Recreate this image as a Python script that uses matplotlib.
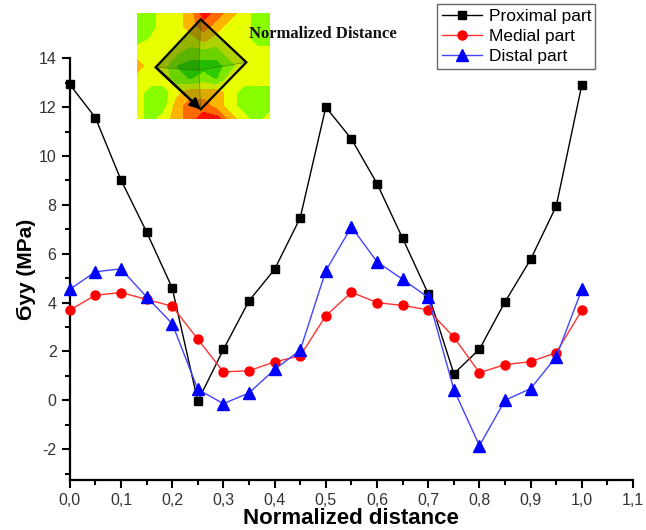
import numpy as np
import matplotlib.pyplot as plt
from matplotlib.colors import ListedColormap, BoundaryNorm
from matplotlib.ticker import MultipleLocator, FuncFormatter
from matplotlib.patches import Polygon, FancyArrowPatch

plt.rcParams['font.family'] = ['Liberation Sans', 'DejaVu Sans']

# normalized distance along the path
distance = [0.0, 0.05, 0.1, 0.15, 0.2, 0.25, 0.3, 0.35, 0.4, 0.45, 0.5,
            0.55, 0.6, 0.65, 0.7, 0.75, 0.8, 0.85, 0.9, 0.95, 1.0]

proximal = [12.93, 11.57, 9.02, 6.89, 4.60, -0.04, 2.08, 4.07, 5.36, 7.47, 12.0,
            10.7, 8.87, 6.63, 4.36, 1.09, 2.09, 4.03, 5.77, 7.95, 12.92]
medial = [3.69, 4.30, 4.41, 4.13, 3.85, 2.50, 1.16, 1.21, 1.57, 1.82, 3.46,
          4.42, 4.00, 3.88, 3.70, 2.58, 1.13, 1.46, 1.58, 1.95, 3.69]
distal = [4.54, 5.26, 5.38, 4.23, 3.14, 0.45, -0.14, 0.30, 1.26, 2.05, 5.30,
          7.10, 5.67, 4.95, 4.21, 0.44, -1.86, 0.0, 0.48, 1.78, 4.54]

series_labels = ['Proximal part', 'Medial part', 'Distal part']

# rough stress levels of the little contour picture (top row first)
inset_levels = [
    [0, 0, 1, 1, 2, 4, 3, 2, 1, 0, 0],
    [0, 0, 1, 1, 2, 3, 2, 1, 1, 0, 0],
    [0, 0.6, 1, 1, 1, 1.8, 1, 1, 1, 0, 0],
    [1, 1, 1, 0.6, 0, 0, 0, 1, 1, 1, 1],
    [2, 1, 0.8, -0.6, -1, -1, -1, 0, 1, 1, 1],
    [1, 1, 1, 0, -0.6, 0, -0.6, 1, 1, 1, 1],
    [1, 0, 0, 1.2, 2, 2, 2, 1, 0, 0, 0],
    [1, 0, 0, 2, 3, 3, 2, 1, 0, 0, 0],
    [1, 0, 1, 2, 3, 4, 4, 2, 1, 0, 1],
]
inset_colors = ['#22dd00', '#88ff00', '#e8ff00', '#ffb400', '#ff6a00', '#ff1000']

fig = plt.figure(figsize=(6.46, 5.30), dpi=100)
ax = fig.add_axes([0.108, 0.095, 0.872, 0.795])

ax.plot(distance, proximal, color='black', lw=1.0, marker='s', ms=6,
        mec='black', mfc='black', label=series_labels[0], clip_on=False, zorder=3)
ax.plot(distance, medial, color='#ff3333', lw=1.0, marker='o', ms=6.5,
        mec='red', mfc='red', label=series_labels[1], clip_on=False, zorder=3)
ax.plot(distance, distal, color='#4444ff', lw=1.0, marker='^', ms=8,
        mec='blue', mfc='blue', label=series_labels[2], clip_on=False, zorder=3)

ax.set_xlim(0, 1.1)
ax.set_ylim(-3.25, 14)
ax.xaxis.set_major_locator(MultipleLocator(0.1))
ax.xaxis.set_minor_locator(MultipleLocator(0.05))
ax.yaxis.set_major_locator(MultipleLocator(2))
ax.yaxis.set_minor_locator(MultipleLocator(1))
ax.xaxis.set_major_formatter(FuncFormatter(lambda v, p: ('%.1f' % v).replace('.', ',')))
ax.yaxis.set_major_formatter(FuncFormatter(lambda v, p: '%d' % round(v)))
ax.set_yticks(range(-2, 15, 2))

for s in ['top', 'right']:
    ax.spines[s].set_visible(False)
for s in ['left', 'bottom']:
    ax.spines[s].set_linewidth(1.6)

ax.tick_params(which='major', direction='out', length=6, width=1.5,
               labelsize=11.5, labelcolor='#333333')
ax.tick_params(which='minor', direction='out', length=3.5, width=1.5)

ax.set_xlabel('Normalized distance', fontsize=16, fontweight='bold', labelpad=0)
ax.set_ylabel('Ϭyy (MPa)', fontsize=15, fontweight='bold', labelpad=2)

leg = fig.legend(loc='upper left', bbox_to_anchor=(0.677, 0.992), fontsize=12.5,
                 frameon=True, fancybox=False, edgecolor='#444444',
                 handlelength=2.3, borderpad=0.25, labelspacing=0.3,
                 handletextpad=0.4, borderaxespad=0)
leg.get_frame().set_linewidth(1.0)

# inset picture with the path
ins = fig.add_axes([0.212, 0.7755, 0.206, 0.2])
grid = np.array(inset_levels)[::-1]
gx = np.linspace(0, 1, grid.shape[1])
gy = np.linspace(0, 1, grid.shape[0])
cmap = ListedColormap(inset_colors)
bounds = [-2, -0.5, 0.5, 1.5, 2.5, 3.5, 5]
ins.contourf(gx, gy, grid, levels=bounds, cmap=cmap,
             norm=BoundaryNorm(bounds, cmap.N))
ins.set_xlim(0, 1)
ins.set_ylim(0, 1)
ins.axis('off')

top, left, right, bottom, mid = (0.479, 0.94), (0.141, 0.488), (0.822, 0.535), (0.479, 0.091), (0.466, 0.46)
ins.add_patch(Polygon([top, left, mid], closed=True, fc='#2a5a00', alpha=0.45, ec='none'))
ins.add_patch(Polygon([top, right, mid], closed=True, fc='#2a6a00', alpha=0.3, ec='none'))
ins.add_patch(Polygon([left, bottom, mid], closed=True, fc='#2a6a00', alpha=0.3, ec='none'))
ins.add_patch(Polygon([right, bottom, mid], closed=True, fc='#5a8a00', alpha=0.2, ec='none'))
for v in [top, left, right, bottom]:
    ins.plot([mid[0], v[0]], [mid[1], v[1]], color='#335500', lw=0.5, alpha=0.6)
ins.add_patch(Polygon([top, right, bottom, left], closed=True, fill=False,
                      ec='black', lw=1.6))
ins.add_patch(FancyArrowPatch(left, bottom, arrowstyle='-|>', mutation_scale=16,
                              color='black', lw=1.6, shrinkA=0, shrinkB=0))

fig.text(0.385, 0.928, 'Normalized Distance', family='Liberation Serif',
         fontsize=12, fontweight='bold', color='#111111')

fig.savefig('out.png', dpi=100)
